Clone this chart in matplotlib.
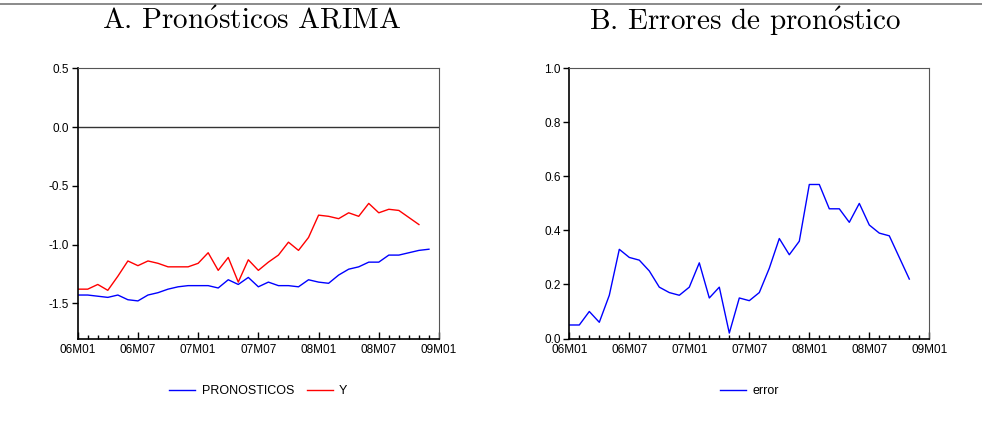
import numpy as np
import matplotlib.pyplot as plt
from matplotlib.ticker import MultipleLocator, FixedLocator
from matplotlib.lines import Line2D

plt.rcParams['mathtext.fontset'] = 'cm'

# monthly index, 06M01 .. 09M01
tick_labels = ['06M01', '06M07', '07M01', '07M07', '08M01', '08M07', '09M01']

pronosticos = [-1.43, -1.43, -1.44, -1.45, -1.43, -1.47, -1.48, -1.43, -1.41, -1.38,
               -1.36, -1.35, -1.35, -1.35, -1.37, -1.30, -1.34, -1.28, -1.36, -1.32,
               -1.35, -1.35, -1.36, -1.30, -1.32, -1.33, -1.26, -1.21, -1.19, -1.15,
               -1.15, -1.09, -1.09, -1.07, -1.05, -1.04]
y_obs = [-1.38, -1.38, -1.34, -1.39, -1.27, -1.14, -1.18, -1.14, -1.16, -1.19,
         -1.19, -1.19, -1.16, -1.07, -1.22, -1.11, -1.32, -1.13, -1.22, -1.15,
         -1.09, -0.98, -1.05, -0.94, -0.75, -0.76, -0.78, -0.73, -0.76, -0.65,
         -0.73, -0.70, -0.71, -0.77, -0.83]
error = [0.05, 0.05, 0.10, 0.06, 0.16, 0.33, 0.30, 0.29, 0.25, 0.19,
         0.17, 0.16, 0.19, 0.28, 0.15, 0.19, 0.02, 0.15, 0.14, 0.17,
         0.26, 0.37, 0.31, 0.36, 0.57, 0.57, 0.48, 0.48, 0.43, 0.50,
         0.42, 0.39, 0.38, 0.30, 0.22]

sans = ['Liberation Sans', 'DejaVu Sans']


def style_axis(ax):
    ax.set_xlim(0, 36)
    ax.xaxis.set_major_locator(FixedLocator(np.arange(0, 37, 6)))
    ax.xaxis.set_minor_locator(MultipleLocator(1))
    ax.set_xticklabels(tick_labels, family=sans, fontsize=8.5)
    ax.tick_params(axis='x', which='major', direction='in', length=5, width=1, pad=4)
    ax.tick_params(axis='x', which='minor', direction='in', length=3, width=1)
    ax.tick_params(axis='y', which='major', direction='out', length=4, width=1, pad=2)
    for lab in ax.get_yticklabels():
        lab.set_family(sans)
        lab.set_fontsize(8.5)
    ax.spines['left'].set_linewidth(1.2)
    ax.spines['bottom'].set_linewidth(1.2)
    ax.spines['right'].set_linewidth(0.8)
    ax.spines['top'].set_linewidth(0.8)
    ax.spines['right'].set_color('#555555')
    ax.spines['top'].set_color('#555555')


fig = plt.figure(figsize=(9.82, 4.33), dpi=100)
ax1 = fig.add_axes([77.7 / 982, 1 - 338.5 / 433, 361.3 / 982, 270.2 / 433])
ax2 = fig.add_axes([569.3 / 982, 1 - 338.5 / 433, 360 / 982, 270.2 / 433])

# top rule
fig.add_artist(Line2D([0, 1], [1 - 3.5 / 433] * 2, color='#777777', lw=1.2,
                      transform=fig.transFigure))

# A
ax1.plot(np.arange(len(pronosticos)), pronosticos, color='#0000ff', lw=1, label='PRONOSTICOS')
ax1.plot(np.arange(len(y_obs)), y_obs, color='#ff0000', lw=1, label='Y')
ax1.axhline(0, color='#333333', lw=1)
ax1.set_ylim(-1.8, 0.5)
ax1.set_yticks([-1.5, -1.0, -0.5, 0.0, 0.5])
ax1.set_yticklabels(['-1.5', '-1.0', '-0.5', '0.0', '0.5'])
style_axis(ax1)
ax1.legend(loc='upper center', bbox_to_anchor=(0.5, -0.13), ncol=2, frameon=False,
           prop={'family': sans, 'size': 9}, handlelength=2.1, columnspacing=1.0,
           handletextpad=0.5)

# B
ax2.plot(np.arange(len(error)), error, color='#0000ff', lw=1, label='error')
ax2.set_ylim(0, 1.0)
ax2.set_yticks([0.0, 0.2, 0.4, 0.6, 0.8, 1.0])
ax2.set_yticklabels(['0.0', '0.2', '0.4', '0.6', '0.8', '1.0'])
style_axis(ax2)
ax2.legend(loc='upper center', bbox_to_anchor=(0.5, -0.13), ncol=1, frameon=False,
           prop={'family': sans, 'size': 9}, handlelength=2.1, handletextpad=0.5)

fig.text(252 / 982, 1 - 21 / 433, r'A. Pron$\acute{\mathrm{o}}$sticos ARIMA', family='cmr10',
         fontsize=21, ha='center', va='center')
fig.text(745 / 982, 1 - 21 / 433, r'B. Errores de pron$\acute{\mathrm{o}}$stico', family='cmr10',
         fontsize=21, ha='center', va='center')

fig.savefig('out.png', dpi=100)
